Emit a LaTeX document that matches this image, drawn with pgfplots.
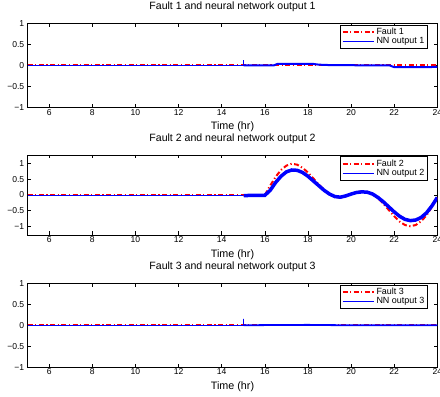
\documentclass[border=0pt]{standalone}
\usepackage{pgfplots}
\pgfplotsset{compat=1.18}
\usepackage{fontspec}
\setmainfont{Liberation Sans}

\pgfplotstableread{
t f
16.0 0
16.25 0.3
16.5 0.58
16.75 0.8
17.0 0.94
17.25 1.0
17.5 0.97
17.75 0.87
18.0 0.72
18.25 0.53
18.5 0.34
18.75 0.16
19.0 0.02
19.25 -0.07
19.5 -0.08
19.75 -0.04
20.0 0.03
20.25 0.09
20.5 0.12
20.75 0.1
21.0 0.03
21.25 -0.1
21.5 -0.28
21.75 -0.48
22.0 -0.68
22.25 -0.85
22.5 -0.96
22.75 -1.0
23.0 -0.96
23.25 -0.84
23.5 -0.65
23.75 -0.38
24.0 -0.08
}\faultB

\pgfplotstableread{
t y
15.02 -0.02
15.5 -0.01
16.0 -0.01
16.25 0.15
16.5 0.4
16.75 0.6
17.0 0.74
17.25 0.8
17.5 0.79
17.75 0.72
18.0 0.6
18.25 0.45
18.5 0.3
18.75 0.15
19.0 0.03
19.25 -0.05
19.5 -0.07
19.75 -0.03
20.0 0.03
20.25 0.08
20.5 0.1
20.75 0.09
21.0 0.03
21.25 -0.08
21.5 -0.22
21.75 -0.38
22.0 -0.54
22.25 -0.68
22.5 -0.78
22.75 -0.82
23.0 -0.8
23.25 -0.72
23.5 -0.57
23.75 -0.35
24.0 -0.08
}\nnB

\pgfplotsset{
  mystyle/.style={
    scale only axis,
    width=409.6bp,
    xmin=5, xmax=24,
    xtick={6,8,...,24},
    ytick={-1,-0.5,0,0.5,1},
    yticklabels={−1,−0.5,0,0.5,1},
    tick align=inside,
    major tick length=3.5bp,
    axis line style={line width=0.7bp},
    every tick/.style={black, line width=0.6bp},
    tick label style={font=\fontsize{8.6}{10}\selectfont},
    /pgf/number format/assume math mode=true,
    xticklabel style={anchor=base, yshift=-7.5bp},
    title style={at={(0.5,1)}, anchor=base, yshift=8bp, font=\fontsize{10.6}{12}\selectfont},
    xlabel={Time (hr)},
    xlabel style={at={(0.5,0)}, anchor=base, yshift=-22.3bp, font=\fontsize{10.8}{12}\selectfont},
    legend style={at={(1,1)}, anchor=north east, xshift=-9bp, yshift=-1.5bp,
      font=\fontsize{9}{10}\selectfont, draw=black, line width=0.9bp,
      inner xsep=1.5bp, inner ysep=1bp, row sep=-2.5bp, fill=white},
    legend cell align=left,
    legend image code/.code={\draw[#1] (0bp,0bp) -- (31bp,0bp);},
    clip=true,
  },
  faultst/.style={draw=red, color=red, line width=2bp, dash pattern=on 5bp off 2.5bp on 1.2bp off 2.5bp},
  nnst/.style={draw=blue, color=blue, line width=1.1bp, solid},
}

\begin{document}
\begin{tikzpicture}
\path[use as bounding box] (0bp,0bp) rectangle (440bp,397bp);

% Plot 1
\begin{axis}[mystyle, at={(27.7bp,289.3bp)}, anchor=south west, height=84.4bp,
  ymin=-1, ymax=1, title={Fault 1 and neural network output 1}]
\addplot[faultst] coordinates {(5,0) (24,0)};
\addplot[nnst, line width=0.9bp, forget plot] coordinates {(5,0) (15,0) (15,0.13) (15,0)};
\addplot[nnst, line width=2bp, forget plot] coordinates {(15.02,0) (16.4,0.0) (16.6,0.04) (18.2,0.04) (18.5,0.02) (19,0.01) (21.8,0.0) (22,-0.04) (24,-0.035)};
\addlegendimage{nnst}
\legend{Fault 1, NN output 1}
\end{axis}

% Plot 2
\begin{axis}[mystyle, at={(27.7bp,162bp)}, anchor=south west, height=80bp,
  ymin=-1.28, ymax=1.28, title={Fault 2 and neural network output 2}]
\addplot[faultst] coordinates {(5,0) (16,0)};
\addplot[faultst, forget plot] table[x=t,y=f] {\faultB};
\addplot[nnst, line width=0.9bp, forget plot] coordinates {(5,0) (15,0)};
\addplot[nnst, line width=3.5bp, forget plot] table[x=t,y=y] {\nnB};
\addlegendimage{nnst}
\legend{Fault 2, NN output 2}
\end{axis}

% Plot 3
\begin{axis}[mystyle, at={(27.7bp,29.7bp)}, anchor=south west, height=84bp,
  ymin=-1, ymax=1, title={Fault 3 and neural network output 3}]
\addplot[faultst] coordinates {(5,0) (24,0)};
\addplot[nnst, line width=0.9bp, forget plot] coordinates {(5,0) (15,0) (15,0.15) (15,0)};
\addplot[nnst, line width=1.8bp, forget plot] coordinates {(15.02,0) (16,0.005) (18,0.01) (20,0.0) (24,0.0)};
\addlegendimage{nnst}
\legend{Fault 3, NN output 3}
\end{axis}
\end{tikzpicture}
\end{document}
